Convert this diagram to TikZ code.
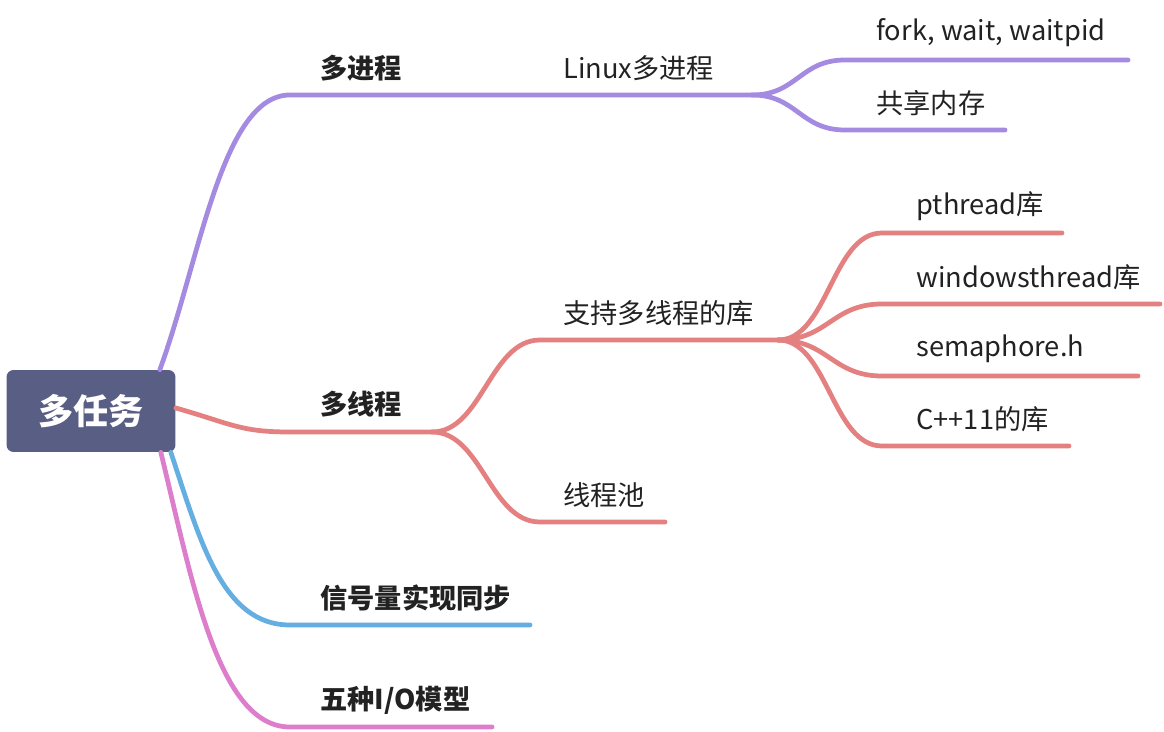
\documentclass[tikz,border=0pt]{standalone}
\usepackage{fontspec}
\setmainfont{Noto Sans CJK SC}
\usetikzlibrary{positioning}
\definecolor{rootbg}{RGB}{88,94,132}
\definecolor{ink}{RGB}{34,34,34}
\definecolor{cpur}{RGB}{164,138,224}
\definecolor{cred}{RGB}{228,128,128}
\definecolor{cblue}{RGB}{100,174,226}
\definecolor{cpink}{RGB}{220,126,204}

\begin{document}
\begin{tikzpicture}[x=0.02cm, y=-0.02cm,
    topic/.style={anchor=west, inner sep=0pt, text=ink, font=\fontsize{15.5}{18}\selectfont},
    major/.style={topic, font=\fontsize{15.5}{18}\selectfont\bfseries},
    rootbox/.style={fill=rootbg, rounded corners=4pt, text=white, minimum width=3.38cm,
      minimum height=1.64cm, font=\fontsize{20}{24}\selectfont\bfseries},
    branch/.style={line width=2.7pt, line cap=round}]
  \useasboundingbox (0,0) rectangle (1164,732);

  \node[rootbox] (root) at (91,411) {多任务};

  % 多进程
  \node[major] (mp) at (320,68) {多进程};
  \node[topic] (lx) at (563,68) {Linux多进程};
  \coordinate (mp-a) at (290,95);
  \coordinate (lx-b) at (752,95);
  \draw[branch, cpur] ([xshift=-0.32cm]root.north east) .. controls (200,260) and (222,95) .. (mp-a) -- (lx-b);
  \foreach \n/\y/\e/\t in {fk/60/1128/{fork, wait, waitpid}, sm/130/1005/{共享内存}} {
    \node[topic] (\n) at (876,\y-27) {\t};
    \coordinate (\n-a) at (845,\y);
    \coordinate (\n-b) at (\e,\y);
    \draw[branch, cpur] (lx-b) .. controls +(45,0) and +(-45,0) .. (\n-a) -- (\n-b);
  }

  % 多线程
  \node[major] (mt) at (320,404) {多线程};
  \coordinate (mt-a) at (290,432);
  \coordinate (mt-b) at (432,432);
  \draw[branch, cred] ([yshift=0.06cm]root.east) .. controls (232,424) and (240,432) .. (mt-a) -- (mt-b);
  \foreach \n/\y/\e/\t in {lib/340/778/{支持多线程的库}, pool/522/665/{线程池}} {
    \node[topic] (\n) at (563,\y-27) {\t};
    \coordinate (\n-a) at (540,\y);
    \coordinate (\n-b) at (\e,\y);
    \draw[branch, cred] (mt-b) .. controls +(50,0) and +(-50,0) .. (\n-a) -- (\n-b);
  }
  \foreach \n/\y/\e/\t in {pt/233/1062/{pthread库}, win/304/1160/{windowsthread库},
      sem/376/1138/{semaphore.h}, cpp/446/1069/{C++11的库}} {
    \node[topic] (\n) at (916,\y-27) {\t};
    \coordinate (\n-a) at (882,\y);
    \coordinate (\n-b) at (\e,\y);
    \draw[branch, cred] (lib-b) .. controls +(50,0) and +(-50,0) .. (\n-a) -- (\n-b);
  }

  % 信号量实现同步
  \node[major] (sig) at (320,598) {信号量实现同步};
  \coordinate (sig-a) at (290,625);
  \coordinate (sig-b) at (530,625);
  \draw[branch, cblue] ([xshift=-0.1cm]root.south east) .. controls (200,540) and (222,625) .. (sig-a) -- (sig-b);

  % 五种I/O模型
  \node[major] (io) at (320,700) {五种I/O模型};
  \coordinate (io-a) at (290,727);
  \coordinate (io-b) at (492,727);
  \draw[branch, cpink] ([xshift=-0.3cm]root.south east) .. controls (192,580) and (218,727) .. (io-a) -- (io-b);
\end{tikzpicture}
\end{document}
